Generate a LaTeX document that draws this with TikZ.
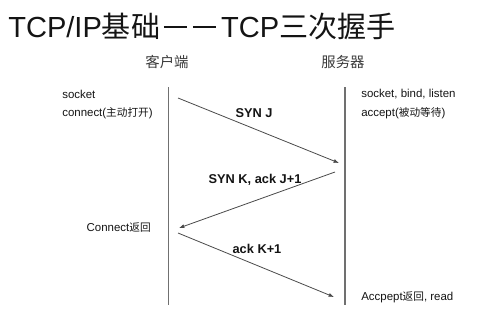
\documentclass[tikz,border=0pt]{standalone}
\usepackage{fontspec}
\setmainfont{Liberation Sans}
\newfontfamily\cjk{Noto Sans CJK SC}
\usetikzlibrary{arrows.meta}
\definecolor{LineGray}{HTML}{707070}
\definecolor{ArrowGray}{HTML}{4A4A4A}
\definecolor{InkDark}{HTML}{141414}
\definecolor{InkSoft}{HTML}{3A3A3A}
\newcommand{\titledash}{\rule[0.3em]{0.8em}{0.07em}}
\tikzset{
  lifeline/.style={line width=1.2pt, draw=LineGray},
  msg/.style={line width=0.6pt, draw=ArrowGray, -{Latex[length=4pt,width=3pt]}},
  side/.style={font=\fontsize{8.6}{10}\selectfont, text=InkDark, inner sep=0pt, anchor=west},
  msglabel/.style={font=\fontsize{9.6}{11}\selectfont\bfseries, text=InkDark, inner sep=0pt},
  head/.style={font=\fontsize{10.8}{12}\cjk, text=InkSoft, inner sep=0pt},
}

\begin{document}
\begin{tikzpicture}[x=0.75pt, y=-0.75pt]
\useasboundingbox (0,0) rectangle (485,311);
\node[anchor=base west, inner sep=0pt, font=\fontsize{21.8}{26}\selectfont, text=InkDark] (title) at (8,37) {TCP/IP{\cjk 基础}\kern0.13em\titledash\kern0.2em\titledash\kern0.17em TCP{\cjk 三次握手}};
\node[head] (client) at (167,62) {客户端};
\node[head] (server) at (343,62) {服务器};
% lifelines
\coordinate (ctop) at (168.5,87);
\coordinate (cbot) at (168.5,305);
\coordinate (stop) at (345,87);
\coordinate (sbot) at (345,305);
\draw[lifeline] (ctop) -- (cbot);
\draw[lifeline] (stop) -- (sbot);
% client side
\node[side] (csocket) at (62,94) {socket};
\node[side] (cconnect) at (62,113) {connect({\cjk\fontsize{8}{10}\selectfont 主动打开})};
\node[side, anchor=east] (cret) at (151,228) {Connect{\cjk\fontsize{8}{10}\selectfont 返回}};
% server side
\node[side] (ssocket) at (361,94) {socket, bind, listen};
\node[side] (saccept) at (361,113) {accept({\cjk\fontsize{8}{10}\selectfont 被动等待})};
\node[side] (sret) at (361,297) {Accpept{\cjk\fontsize{8}{10}\selectfont 返回}, read};
% handshake
\coordinate (synA) at (178,98);
\coordinate (synB) at (339,163);
\coordinate (synackA) at (335,172);
\coordinate (synackB) at (179,228);
\coordinate (ackA) at (178,233);
\coordinate (ackB) at (334,297);
\draw[msg] (synA) -- (synB);
\draw[msg] (synackA) -- (synackB);
\draw[msg] (ackA) -- (ackB);
\node[msglabel] (synlbl) at (254,113) {SYN J};
\node[msglabel] (synacklbl) at (255,180) {SYN K, ack J+1};
\node[msglabel] (acklbl) at (257,249) {ack K+1};
\end{tikzpicture}
\end{document}
